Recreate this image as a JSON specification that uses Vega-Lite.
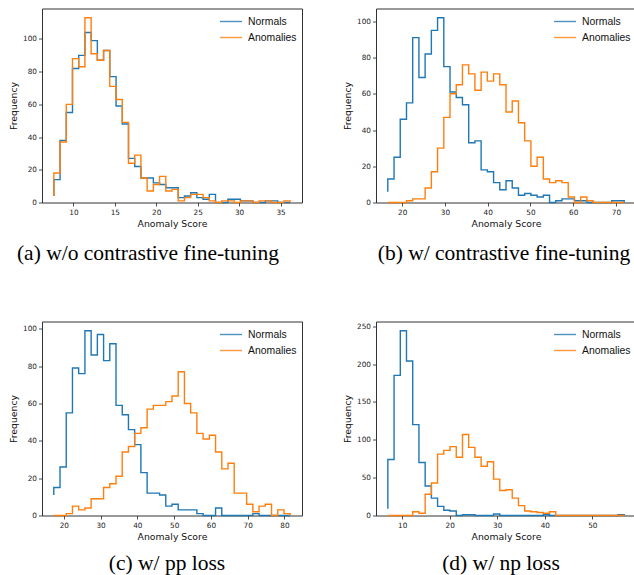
{
  "$schema": "https://vega.github.io/schema/vega-lite/v6.json",
  "padding": {"left": 9, "top": 7.5, "right": 0, "bottom": 0},
  "bounds": "flush",
  "spacing": 313,
  "config": {
    "font": "DejaVu Sans",
    "view": {"stroke": "#333", "strokeWidth": 1},
    "axis": {"domain": false, "grid": false, "labelFont": "DejaVu Sans", "labelFontSize": 7.3, "labelColor": "#222", "tickColor": "#222", "tickSize": 3.5, "tickWidth": 0.8, "labelPadding": 2, "titleFont": "DejaVu Sans", "titleFontSize": 9.3, "titleFontWeight": "normal", "titleColor": "#111", "titlePadding": 4},
    "legend": {"labelFont": "Liberation Sans", "labelFontSize": 10.4, "labelColor": "#111", "symbolType": "M-1.57,0H1.57", "symbolSize": 196, "symbolStrokeWidth": 1.5, "symbolOpacity": 0.8, "labelOffset": 9, "rowPadding": 2, "padding": 0, "offset": 5, "orient": "top-right"},
    "title": {"font": "Liberation Serif", "fontSize": 21.5, "fontWeight": "normal", "color": "#000", "orient": "bottom", "anchor": "middle", "frame": "group", "offset": 11},
    "line": {"strokeWidth": 1.4, "interpolate": "step-after"}
  },
  "datasets": {
    "a": [
      {"i":0,"x":7.64,"Normals":4,"Anomalies":4},
      {"i":1,"x":7.64,"Normals":14,"Anomalies":18},
      {"i":2,"x":8.39,"Normals":38,"Anomalies":37},
      {"i":3,"x":9.14,"Normals":55,"Anomalies":60},
      {"i":4,"x":9.89,"Normals":82,"Anomalies":88},
      {"i":5,"x":10.64,"Normals":90,"Anomalies":83},
      {"i":6,"x":11.39,"Normals":104,"Anomalies":113},
      {"i":7,"x":12.14,"Normals":99,"Anomalies":91},
      {"i":8,"x":12.89,"Normals":87,"Anomalies":87},
      {"i":9,"x":13.64,"Normals":93,"Anomalies":93},
      {"i":10,"x":14.39,"Normals":77,"Anomalies":71},
      {"i":11,"x":15.15,"Normals":59,"Anomalies":63},
      {"i":12,"x":15.90,"Normals":48,"Anomalies":49},
      {"i":13,"x":16.65,"Normals":27,"Anomalies":24},
      {"i":14,"x":17.40,"Normals":22,"Anomalies":29},
      {"i":15,"x":18.15,"Normals":15,"Anomalies":15},
      {"i":16,"x":18.90,"Normals":15,"Anomalies":7},
      {"i":17,"x":19.65,"Normals":12,"Anomalies":11},
      {"i":18,"x":20.40,"Normals":11,"Anomalies":16},
      {"i":19,"x":21.15,"Normals":9,"Anomalies":7},
      {"i":20,"x":21.90,"Normals":9,"Anomalies":8},
      {"i":21,"x":22.65,"Normals":3,"Anomalies":1},
      {"i":22,"x":23.40,"Normals":4,"Anomalies":3},
      {"i":23,"x":24.15,"Normals":6,"Anomalies":5},
      {"i":24,"x":24.90,"Normals":3,"Anomalies":5},
      {"i":25,"x":25.65,"Normals":2,"Anomalies":3},
      {"i":26,"x":26.40,"Normals":5,"Anomalies":1},
      {"i":27,"x":27.15,"Normals":0,"Anomalies":0},
      {"i":28,"x":27.90,"Normals":0,"Anomalies":1},
      {"i":29,"x":28.65,"Normals":2,"Anomalies":1},
      {"i":30,"x":29.41,"Normals":2,"Anomalies":0},
      {"i":31,"x":30.16,"Normals":1,"Anomalies":1},
      {"i":32,"x":30.91,"Normals":1,"Anomalies":1},
      {"i":33,"x":31.66,"Normals":0,"Anomalies":0},
      {"i":34,"x":32.41,"Normals":0,"Anomalies":1},
      {"i":35,"x":33.16,"Normals":1,"Anomalies":1},
      {"i":36,"x":33.91,"Normals":1,"Anomalies":0},
      {"i":37,"x":34.66,"Normals":0,"Anomalies":0},
      {"i":38,"x":35.41,"Normals":0,"Anomalies":1},
      {"i":39,"x":36.16,"Normals":0,"Anomalies":0}
    ],
    "b": [
      {"i":0,"x":16.65,"Normals":6,"Anomalies":0},
      {"i":1,"x":16.65,"Normals":13,"Anomalies":0},
      {"i":2,"x":18.11,"Normals":25,"Anomalies":0},
      {"i":3,"x":19.56,"Normals":46,"Anomalies":0},
      {"i":4,"x":21.02,"Normals":55,"Anomalies":1},
      {"i":5,"x":22.47,"Normals":91,"Anomalies":2},
      {"i":6,"x":23.93,"Normals":69,"Anomalies":2},
      {"i":7,"x":25.38,"Normals":82,"Anomalies":8},
      {"i":8,"x":26.84,"Normals":95,"Anomalies":17},
      {"i":9,"x":28.29,"Normals":102,"Anomalies":30},
      {"i":10,"x":29.75,"Normals":75,"Anomalies":47},
      {"i":11,"x":31.20,"Normals":61,"Anomalies":60},
      {"i":12,"x":32.66,"Normals":58,"Anomalies":65},
      {"i":13,"x":34.11,"Normals":54,"Anomalies":76},
      {"i":14,"x":35.57,"Normals":33,"Anomalies":71},
      {"i":15,"x":37.02,"Normals":34,"Anomalies":62},
      {"i":16,"x":38.48,"Normals":18,"Anomalies":72},
      {"i":17,"x":39.93,"Normals":17,"Anomalies":67},
      {"i":18,"x":41.39,"Normals":11,"Anomalies":71},
      {"i":19,"x":42.84,"Normals":7,"Anomalies":65},
      {"i":20,"x":44.30,"Normals":12,"Anomalies":50},
      {"i":21,"x":45.75,"Normals":8,"Anomalies":56},
      {"i":22,"x":47.21,"Normals":4,"Anomalies":44},
      {"i":23,"x":48.66,"Normals":5,"Anomalies":34},
      {"i":24,"x":50.12,"Normals":4,"Anomalies":20},
      {"i":25,"x":51.57,"Normals":3,"Anomalies":25},
      {"i":26,"x":53.03,"Normals":4,"Anomalies":13},
      {"i":27,"x":54.48,"Normals":0,"Anomalies":11},
      {"i":28,"x":55.94,"Normals":1,"Anomalies":12},
      {"i":29,"x":57.39,"Normals":2,"Anomalies":11},
      {"i":30,"x":58.85,"Normals":2,"Anomalies":3},
      {"i":31,"x":60.30,"Normals":1,"Anomalies":0},
      {"i":32,"x":61.76,"Normals":1,"Anomalies":3},
      {"i":33,"x":63.21,"Normals":0,"Anomalies":1},
      {"i":34,"x":64.67,"Normals":0,"Anomalies":0},
      {"i":35,"x":66.12,"Normals":0,"Anomalies":0},
      {"i":36,"x":67.58,"Normals":0,"Anomalies":0},
      {"i":37,"x":69.03,"Normals":1,"Anomalies":0},
      {"i":38,"x":70.49,"Normals":1,"Anomalies":0},
      {"i":39,"x":71.94,"Normals":0,"Anomalies":0}
    ],
    "c": [
      {"i":0,"x":17.29,"Normals":11,"Anomalies":0},
      {"i":1,"x":17.29,"Normals":15,"Anomalies":0},
      {"i":2,"x":18.98,"Normals":26,"Anomalies":0},
      {"i":3,"x":20.67,"Normals":55,"Anomalies":1},
      {"i":4,"x":22.36,"Normals":79,"Anomalies":5},
      {"i":5,"x":24.05,"Normals":76,"Anomalies":3},
      {"i":6,"x":25.75,"Normals":99,"Anomalies":4},
      {"i":7,"x":27.44,"Normals":86,"Anomalies":9},
      {"i":8,"x":29.13,"Normals":97,"Anomalies":9},
      {"i":9,"x":30.82,"Normals":83,"Anomalies":15},
      {"i":10,"x":32.51,"Normals":92,"Anomalies":17},
      {"i":11,"x":34.20,"Normals":59,"Anomalies":21},
      {"i":12,"x":35.89,"Normals":54,"Anomalies":34},
      {"i":13,"x":37.58,"Normals":46,"Anomalies":37},
      {"i":14,"x":39.27,"Normals":38,"Anomalies":44},
      {"i":15,"x":40.96,"Normals":23,"Anomalies":47},
      {"i":16,"x":42.66,"Normals":12,"Anomalies":57},
      {"i":17,"x":44.35,"Normals":12,"Anomalies":59},
      {"i":18,"x":46.04,"Normals":11,"Anomalies":59},
      {"i":19,"x":47.73,"Normals":5,"Anomalies":61},
      {"i":20,"x":49.42,"Normals":6,"Anomalies":64},
      {"i":21,"x":51.11,"Normals":3,"Anomalies":77},
      {"i":22,"x":52.80,"Normals":3,"Anomalies":60},
      {"i":23,"x":54.49,"Normals":3,"Anomalies":55},
      {"i":24,"x":56.18,"Normals":1,"Anomalies":44},
      {"i":25,"x":57.87,"Normals":0,"Anomalies":41},
      {"i":26,"x":59.57,"Normals":0,"Anomalies":43},
      {"i":27,"x":61.26,"Normals":4,"Anomalies":34},
      {"i":28,"x":62.95,"Normals":0,"Anomalies":25},
      {"i":29,"x":64.64,"Normals":0,"Anomalies":28},
      {"i":30,"x":66.33,"Normals":0,"Anomalies":12},
      {"i":31,"x":68.02,"Normals":0,"Anomalies":12},
      {"i":32,"x":69.71,"Normals":0,"Anomalies":6},
      {"i":33,"x":71.40,"Normals":1,"Anomalies":2},
      {"i":34,"x":73.09,"Normals":0,"Anomalies":5},
      {"i":35,"x":74.78,"Normals":0,"Anomalies":6},
      {"i":36,"x":76.48,"Normals":0,"Anomalies":0},
      {"i":37,"x":78.17,"Normals":0,"Anomalies":3},
      {"i":38,"x":79.86,"Normals":0,"Anomalies":1},
      {"i":39,"x":81.55,"Normals":0,"Anomalies":0}
    ],
    "d": [
      {"i":0,"x":6.99,"Normals":9,"Anomalies":0},
      {"i":1,"x":6.99,"Normals":74,"Anomalies":0},
      {"i":2,"x":8.30,"Normals":185,"Anomalies":0},
      {"i":3,"x":9.61,"Normals":244,"Anomalies":0},
      {"i":4,"x":10.91,"Normals":204,"Anomalies":0},
      {"i":5,"x":12.22,"Normals":120,"Anomalies":5},
      {"i":6,"x":13.53,"Normals":70,"Anomalies":3},
      {"i":7,"x":14.84,"Normals":39,"Anomalies":28},
      {"i":8,"x":16.15,"Normals":23,"Anomalies":43},
      {"i":9,"x":17.45,"Normals":12,"Anomalies":81},
      {"i":10,"x":18.76,"Normals":7,"Anomalies":86},
      {"i":11,"x":20.07,"Normals":6,"Anomalies":91},
      {"i":12,"x":21.38,"Normals":0,"Anomalies":77},
      {"i":13,"x":22.69,"Normals":1,"Anomalies":107},
      {"i":14,"x":23.99,"Normals":1,"Anomalies":90},
      {"i":15,"x":25.30,"Normals":0,"Anomalies":77},
      {"i":16,"x":26.61,"Normals":0,"Anomalies":65},
      {"i":17,"x":27.92,"Normals":0,"Anomalies":71},
      {"i":18,"x":29.23,"Normals":2,"Anomalies":48},
      {"i":19,"x":30.53,"Normals":0,"Anomalies":33},
      {"i":20,"x":31.84,"Normals":0,"Anomalies":34},
      {"i":21,"x":33.15,"Normals":0,"Anomalies":23},
      {"i":22,"x":34.46,"Normals":0,"Anomalies":13},
      {"i":23,"x":35.77,"Normals":0,"Anomalies":6},
      {"i":24,"x":37.07,"Normals":0,"Anomalies":5},
      {"i":25,"x":38.38,"Normals":0,"Anomalies":4},
      {"i":26,"x":39.69,"Normals":1,"Anomalies":3},
      {"i":27,"x":41.00,"Normals":0,"Anomalies":5},
      {"i":28,"x":42.31,"Normals":0,"Anomalies":0},
      {"i":29,"x":43.61,"Normals":0,"Anomalies":0},
      {"i":30,"x":44.92,"Normals":0,"Anomalies":0},
      {"i":31,"x":46.23,"Normals":0,"Anomalies":0},
      {"i":32,"x":47.54,"Normals":0,"Anomalies":0},
      {"i":33,"x":48.85,"Normals":0,"Anomalies":0},
      {"i":34,"x":50.15,"Normals":0,"Anomalies":0},
      {"i":35,"x":51.46,"Normals":0,"Anomalies":0},
      {"i":36,"x":52.77,"Normals":0,"Anomalies":0},
      {"i":37,"x":54.08,"Normals":0,"Anomalies":0},
      {"i":38,"x":55.39,"Normals":1,"Anomalies":0},
      {"i":39,"x":56.69,"Normals":0,"Anomalies":0}
    ]
  },
  "resolve": {"scale": {"color": "independent"}, "legend": {"color": "independent"}},
  "vconcat": [
    {
      "bounds": "flush",
      "spacing": 74,
      "resolve": {"scale": {"color": "independent"}, "legend": {"color": "independent"}},
      "hconcat": [
        {
          "width": 260, "height": 194,
          "data": {"name": "a"},
          "transform": [{"fold": ["Normals", "Anomalies"], "as": ["series", "count"]}],
          "mark": {"type": "line"},
          "encoding": {
            "x": {"field": "x", "type": "quantitative", "scale": {"domain": [6.21, 37.59], "nice": false, "zero": false}, "axis": {"values": [10, 15, 20, 25, 30, 35], "title": "Anomaly Score"}},
            "y": {"field": "count", "type": "quantitative", "scale": {"domain": [0, 118.65], "nice": false}, "axis": {"values": [0, 20, 40, 60, 80, 100], "title": "Frequency"}},
            "color": {"field": "series", "type": "nominal", "scale": {"domain": ["Normals", "Anomalies"], "range": ["#1f77b4", "#ff7f0e"]}, "legend": {"title": null}},
            "order": {"field": "i", "type": "quantitative"}
          },
          "title": {"text": "(a) w/o contrastive fine-tuning", "dx": -24, "offset": 14}
        },
        {
          "width": 260, "height": 194,
          "data": {"name": "b"},
          "transform": [{"fold": ["Normals", "Anomalies"], "as": ["series", "count"]}],
          "mark": {"type": "line"},
          "encoding": {
            "x": {"field": "x", "type": "quantitative", "scale": {"domain": [13.89, 74.70], "nice": false, "zero": false}, "axis": {"values": [20, 30, 40, 50, 60, 70], "title": "Anomaly Score"}},
            "y": {"field": "count", "type": "quantitative", "scale": {"domain": [0, 107.1], "nice": false}, "axis": {"values": [0, 20, 40, 60, 80, 100], "title": "Frequency"}},
            "color": {"field": "series", "type": "nominal", "scale": {"domain": ["Normals", "Anomalies"], "range": ["#1f77b4", "#ff7f0e"]}, "legend": {"title": null}},
            "order": {"field": "i", "type": "quantitative"}
          },
          "title": {"text": "(b) w/ contrastive fine-tuning", "dx": -2, "offset": 14}
        }
      ]
    },
    {
      "bounds": "flush",
      "spacing": 74,
      "resolve": {"scale": {"color": "independent"}, "legend": {"color": "independent"}},
      "hconcat": [
        {
          "width": 260, "height": 194,
          "data": {"name": "c"},
          "transform": [{"fold": ["Normals", "Anomalies"], "as": ["series", "count"]}],
          "mark": {"type": "line"},
          "encoding": {
            "x": {"field": "x", "type": "quantitative", "scale": {"domain": [14.08, 84.76], "nice": false, "zero": false}, "axis": {"values": [20, 30, 40, 50, 60, 70, 80], "title": "Anomaly Score"}},
            "y": {"field": "count", "type": "quantitative", "scale": {"domain": [0, 103.95], "nice": false}, "axis": {"values": [0, 20, 40, 60, 80, 100], "title": "Frequency"}},
            "color": {"field": "series", "type": "nominal", "scale": {"domain": ["Normals", "Anomalies"], "range": ["#1f77b4", "#ff7f0e"]}, "legend": {"title": null}},
            "order": {"field": "i", "type": "quantitative"}
          },
          "title": {"text": "(c) w/ pp loss", "dx": -5}
        },
        {
          "width": 260, "height": 194,
          "data": {"name": "d"},
          "transform": [{"fold": ["Normals", "Anomalies"], "as": ["series", "count"]}],
          "mark": {"type": "line"},
          "encoding": {
            "x": {"field": "x", "type": "quantitative", "scale": {"domain": [4.5, 59.18], "nice": false, "zero": false}, "axis": {"values": [10, 20, 30, 40, 50], "title": "Anomaly Score"}},
            "y": {"field": "count", "type": "quantitative", "scale": {"domain": [0, 256.2], "nice": false}, "axis": {"values": [0, 50, 100, 150, 200, 250], "title": "Frequency"}},
            "color": {"field": "series", "type": "nominal", "scale": {"domain": ["Normals", "Anomalies"], "range": ["#1f77b4", "#ff7f0e"]}, "legend": {"title": null}},
            "order": {"field": "i", "type": "quantitative"}
          },
          "title": {"text": "(d) w/ np loss", "dx": -5}
        }
      ]
    }
  ]
}
